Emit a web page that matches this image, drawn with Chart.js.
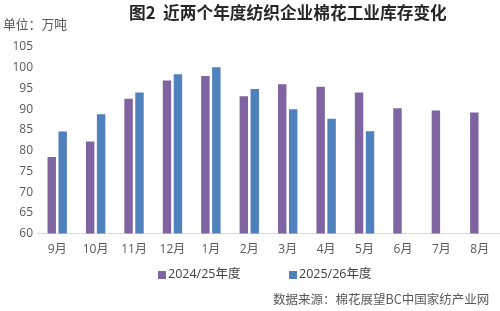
<!DOCTYPE html>
<html>
<head>
<meta charset="utf-8">
<script src="https://cdn.jsdelivr.net/npm/chart.js@4/dist/chart.umd.min.js"></script>
<style>
  html, body { margin: 0; padding: 0; background: #fff; }
  #wrap { position: relative; width: 500px; height: 311px; overflow: hidden; }
  #chart { position: absolute; left: 0; top: 0; }
  .txt { position: absolute; white-space: nowrap; font-family: "Noto Sans CJK SC", sans-serif; line-height: 1; }
  #title { left: 129px; top: 4px; font-size: 16.7px; font-weight: bold; color: #262626; }
  #unit { left: 3px; top: 18px; font-size: 12.8px; color: #595959; }
  #source { left: 273px; top: 293px; font-size: 12.5px; color: #595959; }
  .leg { top: 268px; font-size: 12.5px; color: #404040; font-family: "Open Sans", "Noto Sans CJK SC", sans-serif; }
  .sw { position: absolute; top: 271px; width: 8px; height: 8px; }
</style>
</head>
<body>
<div id="wrap">
  <canvas id="chart" width="500" height="311"></canvas>
  <div class="txt" id="title">图2&nbsp;&nbsp;近两个年度纺织企业棉花工业库存变化</div>
  <div class="txt" id="unit">单位：万吨</div>
  <div id="legend"></div>
  <div class="txt" id="source">数据来源：棉花展望BC中国家纺产业网</div>
</div>
<script>
(function () {
    'use strict';

    // Data
    const months = ['9月', '10月', '11月', '12月', '1月', '2月', '3月', '4月', '5月', '6月', '7月', '8月'];
    const seriesNames = ['2024/25年度', '2025/26年度'];
    const stock2425 = [78.5, 82.2, 92.5, 96.9, 98.0, 93.1, 96.0, 95.4, 94.0, 90.2, 89.7, 89.2];
    const stock2526 = [84.6, 88.8, 94.0, 98.4, 100.1, 94.9, 90.0, 87.7, 84.7, null, null, null];
    const yMin = 60, yMax = 105, yStep = 5;

    const colors = {
        purple: '#8064a2',
        blue: '#4f81bd',
        text: '#595959',
        axis: '#d9d9d9'
    };
    const seriesColors = [colors.purple, colors.blue];
    const fontFamily = '"Open Sans", "Noto Sans CJK SC", sans-serif';

    // Simple HTML legend (wide gap between the two entries)
    const legendX = [158, 289];
    const legend = document.getElementById('legend');
    seriesNames.forEach(function (name, i) {
        const sw = document.createElement('div');
        sw.className = 'sw';
        sw.style.left = legendX[i] + 'px';
        sw.style.background = seriesColors[i];
        legend.appendChild(sw);
        const t = document.createElement('div');
        t.className = 'txt leg';
        t.style.left = (legendX[i] + 10) + 'px';
        t.textContent = name;
        legend.appendChild(t);
    });

    const ctx = document.getElementById('chart').getContext('2d');
    new Chart(ctx, {
        type: 'bar',
        data: {
            labels: months,
            datasets: [{
                label: seriesNames[0],
                data: stock2425,
                backgroundColor: colors.purple,
                barPercentage: 0.77,
                categoryPercentage: 0.57
            }, {
                label: seriesNames[1],
                data: stock2526,
                backgroundColor: colors.blue,
                barPercentage: 0.77,
                categoryPercentage: 0.57
            }]
        },
        options: {
            responsive: false,
            animation: false,
            layout: {
                padding: { left: 0, right: 1, top: 47, bottom: 53 }
            },
            plugins: {
                title: { display: false },
                tooltip: { enabled: false },
                legend: { display: false }
            },
            scales: {
                y: {
                    min: yMin,
                    max: yMax,
                    grid: { display: false, drawTicks: false },
                    border: { display: false },
                    // fixed axis width so the plot starts where the reference does
                    afterFit: function (scale) {
                        scale.width = 38;
                    },
                    ticks: {
                        stepSize: yStep,
                        autoSkip: false,
                        color: colors.text,
                        padding: 5,
                        font: { family: fontFamily, size: 12 }
                    }
                },
                x: {
                    grid: { display: false },
                    border: { color: colors.axis },
                    ticks: {
                        color: colors.text,
                        padding: 1,
                        font: { family: fontFamily, size: 12 }
                    }
                }
            }
        }
    });
})();
</script>
</body>
</html>
